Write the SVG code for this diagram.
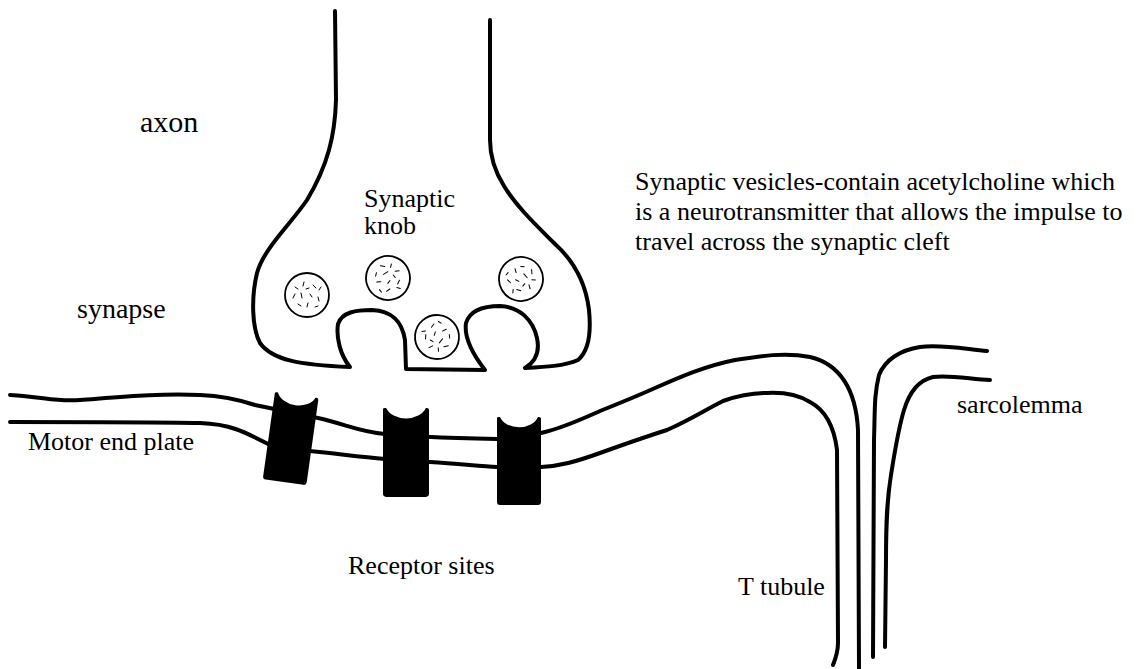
<svg xmlns="http://www.w3.org/2000/svg" width="1148" height="669" viewBox="0 0 1148 669">
  <style>
    .line { fill: none; stroke: #000; stroke-width: 4; stroke-linecap: round; stroke-linejoin: round; }
    .ves { fill: #fff; stroke: #000; stroke-width: 1.8; }
    .dash { fill: none; stroke: #000; stroke-width: 1; stroke-linecap: round; }
    .rec { fill: #000; }
    .lbl { font-family: "Liberation Serif", "Times New Roman", "DejaVu Serif", serif; font-size: 26px; fill: #000; }
    .big { font-size: 30px; }
    .mid { font-size: 28px; }
  </style>
  <defs>
    <!-- synaptic vesicle: circle with scattered neurotransmitter marks -->
    <g id="vesicle">
      <circle class="ves" cx="0" cy="0" r="22"/>
      <path class="dash" d="M-12,-8 l3,2 M-3,-13 l-1,4 M6,-10 l3,3 M-14,3 l2,-4 M-6,-2 l1,5 M3,-1 l2,3 M11,2 l1,4 M-9,9 l3,2 M1,8 l-1,4 M8,12 l3,-1 M-1,-6 l3,-1 M12,-5 l2,-3"/>
    </g>
    <!-- receptor protein: dark block with a concave top -->
    <path id="receptor" d="M0,1 Q0,0 2,0 L3,0 A20,15 0 0 0 41,0 L42,0 Q44,0 44,2 L44,85 Q44,88 41,88 L3,88 Q0,88 0,85 Z"/>
  </defs>

  <rect width="1148" height="669" fill="#fff"/>

  <!-- axon and synaptic knob outline -->
  <g id="axon-knob">
    <path class="line" d="M335,11 L336,100 C335,135 328,165 307,200 C290,225 264,248 257,273 C251,298 252,328 260,343 C272,360 300,365 350,367 C340,355 336,337 338,324 C342,312 356,310 372,310 C392,311 402,321 405,340 L406,369 L485,370 C471,352 464,336 466,323 C470,310 485,306 500,306 C520,307 533,320 537,338 C540,352 535,362 525,368 C545,367 565,366 578,360 C590,350 591,330 589,310 C586,285 575,262 555,244 C536,225 516,206 504,186 C494,170 490,155 490,140 L490,20"/>
  </g>

  <!-- synaptic vesicles -->
  <g id="vesicles">
    <use href="#vesicle" transform="translate(307,295)"/>
    <use href="#vesicle" transform="translate(388,278) rotate(70)"/>
    <use href="#vesicle" transform="translate(521,279) rotate(150)"/>
    <use href="#vesicle" transform="translate(437,337) rotate(230)"/>
  </g>

  <!-- motor end plate membrane continuing into the sarcolemma and T tubule -->
  <g id="membrane">
    <path class="line" d="M10,395 C45,397 55,402 80,400 C120,397 160,393 200,395 C225,396 240,400 255,405 L318,418 C345,424 360,432 385,434 C410,437 450,438 497,439 C515,439 530,436 545,432 C565,427 580,420 600,411 C620,403 635,397 655,388 C680,377 705,366 735,360 C760,356 785,352 810,357 C840,364 856,390 858,430 L859,669"/>
    <path class="line" d="M10,422 C60,422 150,422 200,423 C230,424 245,432 268,444 L310,451 C340,454 360,457 385,459 L430,462 C460,464 480,466 497,467 L541,467 C560,466 575,462 600,453 C625,444 645,437 667,430 C690,420 705,410 723,401 C740,395 755,393 767,393 C785,392 800,396 810,402 C825,410 834,425 837,450 L838,643 C838,652 835,660 833,665"/>
  </g>

  <g id="t-tubule">
    <path class="line" d="M987,351 C965,349 940,344 920,347 C900,350 885,360 879,375 C874,395 875,410 874,440 L873,657"/>
    <path class="line" d="M990,380 C970,379 950,375 933,377 C920,380 910,390 904,410 C898,430 895,450 891,475 C887,500 886,520 886,560 L885,647"/>
  </g>

  <!-- receptor sites on the end plate -->
  <g id="receptors">
    <use href="#receptor" class="rec" transform="translate(275,392) rotate(8)"/>
    <use href="#receptor" class="rec" transform="translate(383,408) scale(1.045,1.01)"/>
    <use href="#receptor" class="rec" transform="translate(497,417)"/>
  </g>

  <!-- labels -->
  <g id="labels">
    <text class="lbl big" x="140" y="132">axon</text>
    <text class="lbl" x="364" y="207">Synaptic</text>
    <text class="lbl" x="364" y="234">knob</text>
    <text class="lbl mid" x="77" y="318">synapse</text>
    <text class="lbl" x="635" y="190">Synaptic vesicles-contain acetylcholine which</text>
    <text class="lbl" x="635" y="220">is a neurotransmitter that allows the impulse to</text>
    <text class="lbl" x="635" y="250">travel across the synaptic cleft</text>
    <text class="lbl" x="28" y="450">Motor end plate</text>
    <text class="lbl" x="957" y="413">sarcolemma</text>
    <text class="lbl" x="348" y="574">Receptor sites</text>
    <text class="lbl" x="738" y="595">T tubule</text>
  </g>
</svg>
